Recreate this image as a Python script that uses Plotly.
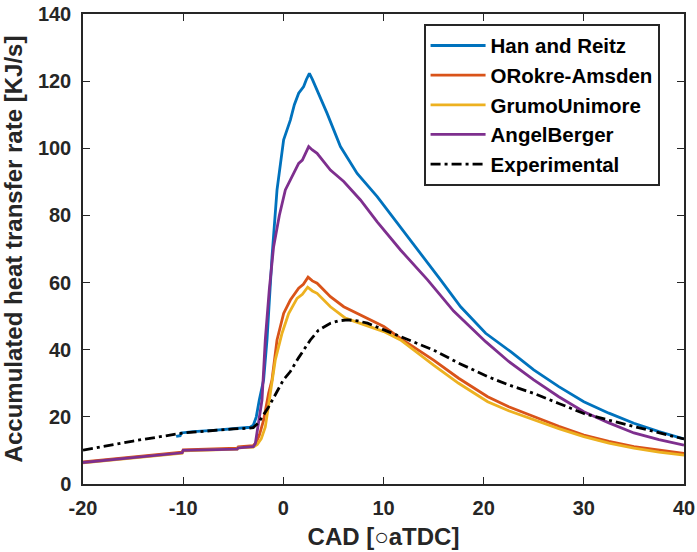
import plotly.graph_objects as go

# Crank angle (deg aTDC) and accumulated heat transfer rate (kJ/s) per model
han_x = [-10.7, -10.3, -10.2, -9, -7, -5.5, -5.3, -4, -3.3, -3.0, -2.7, -2.4, -1.97, -1.63,
         -1.13, -0.63, 0.03, 0.7, 1.1, 1.53, 2.03, 2.3, 2.6, 2.9, 3.37, 4.37, 5.7, 7.37,
         9.37, 11.7, 14, 15.7, 17.7, 20.2, 22.7, 25, 27.5, 30, 32.5, 35, 37.5, 40]
han_y = [14.2, 14.4, 15.2, 15.6, 16.0, 16.3, 16.5, 16.7, 16.9, 17.5, 20, 25, 31, 43,
         67.7, 87.6, 102.5, 108.4, 113, 116.4, 118.4, 120.5, 122.3, 120.5, 117.4, 110.4, 100.5, 92.5,
         85.6, 76.6, 67.5, 60.8, 52.8, 44.9, 39.4, 34, 29, 24.5, 21.1, 18.1, 15.6, 13.4]

ork_x = [-20, -15, -10.1, -10.0, -7, -4.6, -4.5, -3.3, -3.0, -2.7, -2.4, -1.97, -1.47, -1.13,
         -0.63, 0.03, 0.7, 1.53, 2.0, 2.47, 2.9, 3.37, 4.7, 6.03, 8.03, 10.03, 11.7, 15,
         17.5, 20.2, 20.4, 22.5, 25, 27.5, 30, 32.5, 35, 37.5, 40]
ork_y = [6.6, 8.1, 9.5, 10.2, 10.4, 10.7, 11.1, 11.2, 11.4, 12.5, 14.5, 19, 27, 31,
         42.9, 50.8, 54.8, 58.3, 59.5, 61.6, 60.5, 59.8, 55.8, 52.8, 49.8, 46.9, 43.4, 36.9,
         31.5, 26.5, 26, 23, 20, 17.2, 14.6, 12.7, 11.1, 10, 9.1]

grumo_x = [-20, -15, -10.1, -10.0, -7, -4.6, -4.5, -3.3, -3.0, -2.6, -2.2, -1.8, -1.3, -0.8,
           -0.13, 0.53, 1.37, 1.9, 2.43, 2.9, 3.37, 4.7, 6.2, 8.03, 10.03, 11.7, 15, 17.5,
           20.4, 22.5, 25, 27.5, 30, 32.5, 35, 37.5, 40]
grumo_y = [6.3, 7.8, 9.2, 9.9, 10.1, 10.4, 10.8, 10.9, 11.0, 11.8, 13.5, 17, 27, 37,
           44.9, 50.8, 55.3, 56.5, 58.6, 57.5, 56.8, 52.8, 49.4, 47.4, 45.4, 42.9, 35.4, 30,
           24.5, 21.8, 19.1, 16.5, 14.1, 12.2, 10.7, 9.5, 8.6]

angel_x = [-20, -15, -10.1, -10.0, -7, -4.6, -4.5, -3.3, -3.0, -2.8, -2.63, -2.4, -2.13, -1.8,
           -1.4, -0.97, -0.4, 0.2, 0.87, 1.53, 1.9, 2.53, 2.9, 3.37, 4.7, 6.03, 7.7, 9.37,
           11.7, 14.4, 17, 20.2, 22.5, 25, 27.5, 30, 32.5, 35, 37.5, 40]
angel_y = [6.4, 7.9, 9.3, 10.0, 10.2, 10.4, 10.8, 10.9, 11.1, 12, 15, 19, 25, 43,
           58, 70.7, 80, 87.6, 91.5, 95.5, 96.5, 100.5, 99.5, 98.5, 93.5, 90.1, 84.6, 78.1,
           69.7, 60.8, 51.5, 42.4, 36.5, 31, 26, 21.5, 18.2, 15.2, 13.2, 11.6]

exp_x = [-20, -15, -10, -7, -5, -3.5, -3, -2.5, -2, -1.5, -1, -0.5, 0, 0.7, 1.5, 2.7,
         3.5, 4.7, 5.5, 6.4, 7.4, 8.4, 10, 11.7, 15, 17.5, 20.4, 22.5, 25, 27.5, 30,
         32.5, 35, 37.5, 40]
exp_y = [10.1, 12.8, 15.2, 16.0, 16.4, 16.6, 16.8, 18.2, 20.4, 22.8, 25.5, 28.5, 31, 33.5, 37.5, 42.9,
         45.8, 47.9, 48.6, 48.9, 48.6, 47.9, 46, 43.9, 39.9, 36, 32, 29.5, 27, 24, 21,
         19, 17.1, 15.2, 13.4]

x_ticks = [-20, -10, 0, 10, 20, 30, 40]
x_tick_text = ["-20", "-10", "0", "10", "20", "30", "40"]
y_ticks = [0, 20, 40, 60, 80, 100, 120, 140]

series = [
    ("Han and Reitz", han_x, han_y, "#0072BD", "solid"),
    ("ORokre-Amsden", ork_x, ork_y, "#D95319", "solid"),
    ("GrumoUnimore", grumo_x, grumo_y, "#EDB120", "solid"),
    ("AngelBerger", angel_x, angel_y, "#7E2F8E", "solid"),
    ("Experimental", exp_x, exp_y, "#000000", "10px,4px,3px,4px"),
]

fig = go.Figure()
for name, xs, ys, color, dash in series:
    fig.add_trace(go.Scatter(x=xs, y=ys, mode="lines", name=name,
                             line=dict(color=color, width=2.8, dash=dash)))

axis_color = "#262626"
font_family = "Liberation Sans, Arial, sans-serif"

common_axis = dict(
    showgrid=False, zeroline=False, showline=True, linecolor=axis_color, linewidth=1.5,
    mirror="ticks", ticks="inside", ticklen=7, tickwidth=1.2, tickcolor=axis_color,
    automargin=False,
    tickfont=dict(family=font_family, size=20, color=axis_color, weight="bold"),
)

fig.update_xaxes(range=[-20, 40], tickvals=x_ticks, ticktext=x_tick_text, ticklabelstandoff=5,
                 title=dict(text="CAD [○aTDC]", standoff=10,
                            font=dict(family=font_family, size=24, color=axis_color, weight="bold")),
                 **common_axis)
fig.update_yaxes(range=[0, 140], tickvals=y_ticks, ticklabelstandoff=6,
                 title=dict(text="Accumulated heat transfer rate [KJ/s]", standoff=9,
                            font=dict(family=font_family, size=24, color=axis_color, weight="bold")),
                 **common_axis)

fig.update_layout(
    width=697, height=552,
    margin=dict(l=83, r=13, t=14, b=68, autoexpand=False),
    plot_bgcolor="white", paper_bgcolor="white",
    showlegend=True,
    legend=dict(x=0.567, y=0.979, xanchor="left", yanchor="top",
                bgcolor="white", bordercolor=axis_color, borderwidth=1.8,
                itemwidth=55,
                font=dict(family=font_family, size=20.5, color="#000000", weight="bold")),
)

fig.write_html("out.html")
